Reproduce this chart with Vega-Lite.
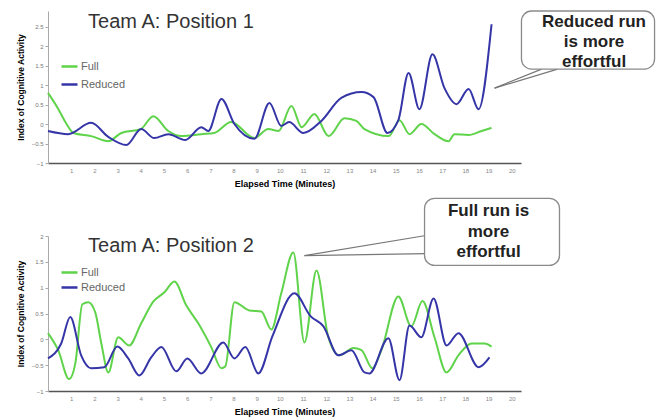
{
  "$schema": "https://vega.github.io/schema/vega-lite/v6.json",
  "padding": {"left": 16, "top": 10, "right": 5, "bottom": 5},
  "bounds": "flush",
  "spacing": 73,
  "resolve": {"legend": {"color": "independent"}},
  "config": {
    "font": "Liberation Sans",
    "view": {"stroke": null},
    "axisX": {"domainColor": "#555", "domainWidth": 1.5, "ticks": false, "labelFontSize": 6, "labelColor": "#888", "labelPadding": 4, "labelOverlap": false, "titleFontSize": 9, "titleFontWeight": "bold", "titleColor": "#000", "titlePadding": 6, "grid": false},
    "axisY": {"domainColor": "#aaa", "tickColor": "#aaa", "tickSize": 3, "labelFontSize": 6, "labelColor": "#777", "labelPadding": 2, "labelOverlap": false, "titleFontSize": 8.5, "titleFontWeight": "bold", "titleColor": "#000", "titlePadding": 6, "minExtent": 17, "maxExtent": 17, "grid": false}
  },
  "datasets": {
    "p1": [
      {"minute": 0, "activity": 0.8, "run": "Full"},
      {"minute": 0.43, "activity": 0.4, "run": "Full"},
      {"minute": 0.8, "activity": 0.0, "run": "Full"},
      {"minute": 1.1, "activity": -0.23, "run": "Full"},
      {"minute": 1.86, "activity": -0.31, "run": "Full"},
      {"minute": 2.6, "activity": -0.44, "run": "Full"},
      {"minute": 3.16, "activity": -0.23, "run": "Full"},
      {"minute": 4.0, "activity": -0.13, "run": "Full"},
      {"minute": 4.54, "activity": 0.2, "run": "Full"},
      {"minute": 5.19, "activity": -0.18, "run": "Full"},
      {"minute": 5.75, "activity": -0.31, "run": "Full"},
      {"minute": 6.61, "activity": -0.26, "run": "Full"},
      {"minute": 7.17, "activity": -0.23, "run": "Full"},
      {"minute": 7.9, "activity": 0.05, "run": "Full"},
      {"minute": 8.9, "activity": -0.36, "run": "Full"},
      {"minute": 9.5, "activity": -0.13, "run": "Full"},
      {"minute": 9.94, "activity": -0.18, "run": "Full"},
      {"minute": 10.5, "activity": 0.46, "run": "Full"},
      {"minute": 10.94, "activity": -0.08, "run": "Full"},
      {"minute": 11.49, "activity": 0.26, "run": "Full"},
      {"minute": 12.1, "activity": -0.31, "run": "Full"},
      {"minute": 12.79, "activity": 0.15, "run": "Full"},
      {"minute": 13.3, "activity": 0.08, "run": "Full"},
      {"minute": 13.65, "activity": -0.13, "run": "Full"},
      {"minute": 14.7, "activity": -0.31, "run": "Full"},
      {"minute": 15.16, "activity": 0.1, "run": "Full"},
      {"minute": 15.59, "activity": -0.26, "run": "Full"},
      {"minute": 16.1, "activity": 0.0, "run": "Full"},
      {"minute": 16.67, "activity": -0.26, "run": "Full"},
      {"minute": 17.27, "activity": -0.44, "run": "Full"},
      {"minute": 17.53, "activity": -0.26, "run": "Full"},
      {"minute": 18.14, "activity": -0.28, "run": "Full"},
      {"minute": 18.7, "activity": -0.18, "run": "Full"},
      {"minute": 19.13, "activity": -0.1, "run": "Full"},
      {"minute": 0, "activity": -0.18, "run": "Reduced"},
      {"minute": 0.87, "activity": -0.26, "run": "Reduced"},
      {"minute": 1.86, "activity": 0.03, "run": "Reduced"},
      {"minute": 2.6, "activity": -0.33, "run": "Reduced"},
      {"minute": 3.38, "activity": -0.54, "run": "Reduced"},
      {"minute": 4.02, "activity": -0.13, "run": "Reduced"},
      {"minute": 4.58, "activity": -0.36, "run": "Reduced"},
      {"minute": 5.19, "activity": -0.26, "run": "Reduced"},
      {"minute": 5.92, "activity": -0.41, "run": "Reduced"},
      {"minute": 6.61, "activity": -0.08, "run": "Reduced"},
      {"minute": 6.91, "activity": -0.18, "run": "Reduced"},
      {"minute": 7.48, "activity": 0.64, "run": "Reduced"},
      {"minute": 8.04, "activity": 0.0, "run": "Reduced"},
      {"minute": 8.9, "activity": -0.38, "run": "Reduced"},
      {"minute": 9.55, "activity": 0.54, "run": "Reduced"},
      {"minute": 10.06, "activity": -0.05, "run": "Reduced"},
      {"minute": 10.4, "activity": 0.05, "run": "Reduced"},
      {"minute": 11.01, "activity": -0.23, "run": "Reduced"},
      {"minute": 11.79, "activity": 0.08, "run": "Reduced"},
      {"minute": 12.65, "activity": 0.67, "run": "Reduced"},
      {"minute": 13.52, "activity": 0.82, "run": "Reduced"},
      {"minute": 14.04, "activity": 0.69, "run": "Reduced"},
      {"minute": 14.64, "activity": -0.23, "run": "Reduced"},
      {"minute": 15.11, "activity": 0.1, "run": "Reduced"},
      {"minute": 15.55, "activity": 1.31, "run": "Reduced"},
      {"minute": 16.02, "activity": 0.38, "run": "Reduced"},
      {"minute": 16.58, "activity": 1.79, "run": "Reduced"},
      {"minute": 17.1, "activity": 0.92, "run": "Reduced"},
      {"minute": 17.62, "activity": 0.51, "run": "Reduced"},
      {"minute": 18.14, "activity": 0.9, "run": "Reduced"},
      {"minute": 18.57, "activity": 0.38, "run": "Reduced"},
      {"minute": 19.13, "activity": 2.56, "run": "Reduced"}
    ],
    "p2": [
      {"minute": 0, "activity": 0.12, "run": "Full"},
      {"minute": 0.44, "activity": -0.21, "run": "Full"},
      {"minute": 0.91, "activity": -0.77, "run": "Full"},
      {"minute": 1.18, "activity": -0.46, "run": "Full"},
      {"minute": 1.48, "activity": 0.68, "run": "Full"},
      {"minute": 1.74, "activity": 0.72, "run": "Full"},
      {"minute": 2.04, "activity": 0.52, "run": "Full"},
      {"minute": 2.3, "activity": -0.08, "run": "Full"},
      {"minute": 2.6, "activity": -0.64, "run": "Full"},
      {"minute": 3.03, "activity": 0.04, "run": "Full"},
      {"minute": 3.5, "activity": -0.12, "run": "Full"},
      {"minute": 4.02, "activity": 0.31, "run": "Full"},
      {"minute": 4.54, "activity": 0.73, "run": "Full"},
      {"minute": 5.02, "activity": 0.91, "run": "Full"},
      {"minute": 5.45, "activity": 1.12, "run": "Full"},
      {"minute": 5.96, "activity": 0.66, "run": "Full"},
      {"minute": 6.48, "activity": 0.31, "run": "Full"},
      {"minute": 7.04, "activity": -0.15, "run": "Full"},
      {"minute": 7.48, "activity": -0.56, "run": "Full"},
      {"minute": 7.65, "activity": -0.52, "run": "Full"},
      {"minute": 8.04, "activity": 0.72, "run": "Full"},
      {"minute": 8.68, "activity": 0.56, "run": "Full"},
      {"minute": 9.2, "activity": 0.54, "run": "Full"},
      {"minute": 9.63, "activity": 0.19, "run": "Full"},
      {"minute": 10.06, "activity": 0.89, "run": "Full"},
      {"minute": 10.58, "activity": 1.68, "run": "Full"},
      {"minute": 11.06, "activity": -0.06, "run": "Full"},
      {"minute": 11.58, "activity": 1.33, "run": "Full"},
      {"minute": 12.09, "activity": 0.04, "run": "Full"},
      {"minute": 12.57, "activity": -0.31, "run": "Full"},
      {"minute": 13.17, "activity": -0.17, "run": "Full"},
      {"minute": 13.52, "activity": -0.21, "run": "Full"},
      {"minute": 13.99, "activity": -0.56, "run": "Full"},
      {"minute": 14.38, "activity": -0.21, "run": "Full"},
      {"minute": 15.11, "activity": 0.83, "run": "Full"},
      {"minute": 15.67, "activity": 0.25, "run": "Full"},
      {"minute": 16.15, "activity": 0.74, "run": "Full"},
      {"minute": 16.67, "activity": 0.04, "run": "Full"},
      {"minute": 17.19, "activity": -0.64, "run": "Full"},
      {"minute": 17.7, "activity": -0.31, "run": "Full"},
      {"minute": 18.27, "activity": -0.08, "run": "Full"},
      {"minute": 18.83, "activity": -0.08, "run": "Full"},
      {"minute": 19.13, "activity": -0.14, "run": "Full"},
      {"minute": 0, "activity": -0.37, "run": "Reduced"},
      {"minute": 0.57, "activity": -0.08, "run": "Reduced"},
      {"minute": 0.96, "activity": 0.43, "run": "Reduced"},
      {"minute": 1.43, "activity": -0.31, "run": "Reduced"},
      {"minute": 1.86, "activity": -0.56, "run": "Reduced"},
      {"minute": 2.43, "activity": -0.54, "run": "Reduced"},
      {"minute": 2.99, "activity": -0.14, "run": "Reduced"},
      {"minute": 3.46, "activity": -0.37, "run": "Reduced"},
      {"minute": 3.94, "activity": -0.7, "run": "Reduced"},
      {"minute": 4.45, "activity": -0.35, "run": "Reduced"},
      {"minute": 4.89, "activity": -0.15, "run": "Reduced"},
      {"minute": 5.53, "activity": -0.62, "run": "Reduced"},
      {"minute": 6.01, "activity": -0.37, "run": "Reduced"},
      {"minute": 6.61, "activity": -0.66, "run": "Reduced"},
      {"minute": 7.56, "activity": -0.06, "run": "Reduced"},
      {"minute": 8.04, "activity": -0.37, "run": "Reduced"},
      {"minute": 8.51, "activity": -0.15, "run": "Reduced"},
      {"minute": 9.07, "activity": -0.66, "run": "Reduced"},
      {"minute": 9.68, "activity": 0.06, "run": "Reduced"},
      {"minute": 10.63, "activity": 0.89, "run": "Reduced"},
      {"minute": 11.32, "activity": 0.45, "run": "Reduced"},
      {"minute": 11.88, "activity": 0.25, "run": "Reduced"},
      {"minute": 12.52, "activity": -0.31, "run": "Reduced"},
      {"minute": 13.09, "activity": -0.21, "run": "Reduced"},
      {"minute": 13.65, "activity": -0.64, "run": "Reduced"},
      {"minute": 13.86, "activity": -0.66, "run": "Reduced"},
      {"minute": 14.68, "activity": 0.02, "run": "Reduced"},
      {"minute": 15.16, "activity": -0.79, "run": "Reduced"},
      {"minute": 15.59, "activity": 0.27, "run": "Reduced"},
      {"minute": 16.1, "activity": 0.04, "run": "Reduced"},
      {"minute": 16.63, "activity": 0.79, "run": "Reduced"},
      {"minute": 17.19, "activity": -0.12, "run": "Reduced"},
      {"minute": 17.7, "activity": 0.12, "run": "Reduced"},
      {"minute": 18.57, "activity": -0.54, "run": "Reduced"},
      {"minute": 19.04, "activity": -0.35, "run": "Reduced"}
    ]
  },
  "vconcat": [
    {
      "width": 473,
      "height": 152,
      "layer": [
        {
          "data": {"name": "p1"},
          "mark": {"type": "line", "interpolate": "monotone", "strokeWidth": 2},
          "encoding": {
            "x": {"field": "minute", "type": "quantitative", "scale": {"domain": [0, 20.4], "nice": false, "zero": false}, "axis": {"title": "Elapsed Time (Minutes)", "values": [1,2,3,4,5,6,7,8,9,10,11,12,13,14,15,16,17,18,19,20], "tickCount": 40, "format": "d", "labelOverlap": false, "labelFlush": false}},
            "y": {"field": "activity", "type": "quantitative", "scale": {"domain": [-1, 2.9], "nice": false, "zero": false}, "axis": {"title": "Index of Cognitive Activity", "values": [-1,-0.5,0,0.5,1,1.5,2,2.5], "tickCount": 20, "format": "~g", "labelOverlap": false, "labelFlush": false}},
            "color": {"field": "run", "type": "nominal", "scale": {"domain": ["Full", "Reduced"], "range": ["#5fd34a", "#3535a8"]}, "legend": {"title": null, "orient": "none", "legendX": 12, "legendY": 46, "symbolType": "stroke", "symbolSize": 256, "symbolStrokeWidth": 2.5, "labelFontSize": 11, "labelColor": "#666", "rowPadding": 3, "padding": 0, "labelOffset": 2}}
          }
        },
        {
          "data": {"values": [{}]},
          "mark": {"type": "rule", "color": "#777", "strokeWidth": 1.2},
          "encoding": {"x": {"datum": 21.29}, "y": {"datum": 1.41}, "x2": {"datum": 19.26}, "y2": {"datum": 0.92}}
        },
        {
          "data": {"values": [{}]},
          "mark": {"type": "rule", "color": "#777", "strokeWidth": 1.2},
          "encoding": {"x": {"datum": 21.98}, "y": {"datum": 1.41}, "x2": {"datum": 19.26}, "y2": {"datum": 0.92}}
        },
        {
          "data": {"values": [{}]},
          "mark": {"type": "rect", "fill": "white", "stroke": "#8a8a8a", "strokeWidth": 1.3, "cornerRadius": 10},
          "encoding": {"x": {"datum": 20.42}, "x2": {"datum": 26.16}, "y": {"datum": 2.9}, "y2": {"datum": 1.41}}
        },
        {
          "data": {"values": [{}]},
          "mark": {"type": "text", "text": ["Reduced run", "is more", "effortful"], "fontSize": 17, "fontWeight": "bold", "color": "#222", "lineHeight": 20, "align": "center", "baseline": "middle"},
          "encoding": {"x": {"datum": 23.55}, "y": {"datum": 2.62}}
        },
        {
          "data": {"values": [{}]},
          "mark": {"type": "text", "text": "Team A: Position 1", "fontSize": 20, "color": "#333", "align": "left", "baseline": "alphabetic"},
          "encoding": {"x": {"datum": 1.73}, "y": {"datum": 2.46}}
        }
      ]
    },
    {
      "width": 473,
      "height": 155,
      "layer": [
        {
          "data": {"name": "p2"},
          "mark": {"type": "line", "interpolate": "monotone", "strokeWidth": 2},
          "encoding": {
            "x": {"field": "minute", "type": "quantitative", "scale": {"domain": [0, 20.4], "nice": false, "zero": false}, "axis": {"title": "Elapsed Time (Minutes)", "values": [1,2,3,4,5,6,7,8,9,10,11,12,13,14,15,16,17,18,19,20], "tickCount": 40, "format": "d", "labelOverlap": false, "labelFlush": false}},
            "y": {"field": "activity", "type": "quantitative", "scale": {"domain": [-1, 2], "nice": false, "zero": false}, "axis": {"title": "Index of Cognitive Activity", "values": [-1,-0.5,0,0.5,1,1.5,2], "tickCount": 20, "format": "~g", "labelOverlap": false, "labelFlush": false}},
            "color": {"field": "run", "type": "nominal", "scale": {"domain": ["Full", "Reduced"], "range": ["#5fd34a", "#3535a8"]}, "legend": {"title": null, "orient": "none", "legendX": 12, "legendY": 27, "symbolType": "stroke", "symbolSize": 256, "symbolStrokeWidth": 2.5, "labelFontSize": 11, "labelColor": "#666", "rowPadding": 0, "padding": 0, "labelOffset": 2}}
          }
        },
        {
          "data": {"values": [{}]},
          "mark": {"type": "rule", "color": "#777", "strokeWidth": 1.2},
          "encoding": {"x": {"datum": 16.3}, "y": {"datum": 2.01}, "x2": {"datum": 11.06}, "y2": {"datum": 1.62}}
        },
        {
          "data": {"values": [{}]},
          "mark": {"type": "rule", "color": "#777", "strokeWidth": 1.2},
          "encoding": {"x": {"datum": 16.3}, "y": {"datum": 1.66}, "x2": {"datum": 11.06}, "y2": {"datum": 1.62}}
        },
        {
          "data": {"values": [{}]},
          "mark": {"type": "rect", "fill": "white", "stroke": "#8a8a8a", "strokeWidth": 1.3, "cornerRadius": 10},
          "encoding": {"x": {"datum": 16.24}, "x2": {"datum": 22.06}, "y": {"datum": 2.73}, "y2": {"datum": 1.43}}
        },
        {
          "data": {"values": [{}]},
          "mark": {"type": "text", "text": ["Full run is", "more", "effortful"], "fontSize": 17, "fontWeight": "bold", "color": "#222", "lineHeight": 20.5, "align": "center", "baseline": "middle"},
          "encoding": {"x": {"datum": 19.0}, "y": {"datum": 2.48}}
        },
        {
          "data": {"values": [{}]},
          "mark": {"type": "text", "text": "Team A: Position 2", "fontSize": 20, "color": "#333", "align": "left", "baseline": "alphabetic"},
          "encoding": {"x": {"datum": 1.73}, "y": {"datum": 1.7}}
        }
      ]
    }
  ]
}
